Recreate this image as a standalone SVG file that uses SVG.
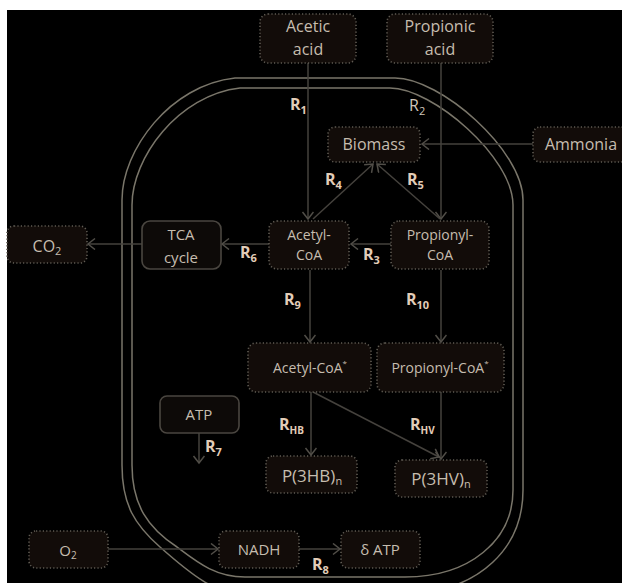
<svg xmlns="http://www.w3.org/2000/svg" width="622" height="583" viewBox="0 0 622 583">
<style>
.node{fill:#120c09;stroke:#5f5b53;stroke-width:1.6;stroke-dasharray:1.2 2.2}
.solid{fill:#0d0a08;stroke:#4a4640;stroke-width:1.6}
.t{font-family:"Open Sans","Liberation Sans",sans-serif;fill:#c6bdaf;text-anchor:middle}
.r{font-family:"Open Sans","Liberation Sans",sans-serif;fill:#e2cdb8;font-weight:bold;font-size:16px}
.rn{font-family:"Open Sans","Liberation Sans",sans-serif;fill:#cfc6bb;font-size:16px}
.mem{fill:none;stroke:#7a766a;stroke-width:1.5}
.c{fill:none;stroke:#45423d;stroke-width:1.5;marker-end:url(#ah)}
</style>
<defs>
<marker id="ah" markerUnits="userSpaceOnUse" markerWidth="12" markerHeight="14" refX="8" refY="6" orient="auto">
<path d="M1,0.5 L8,6 L1,11.5" fill="none" stroke="#514e48" stroke-width="1.5"/>
</marker>
</defs>
<rect x="0" y="0" width="622" height="583" fill="#ffffff"/>
<rect x="7" y="10" width="615" height="573" fill="#000000"/>

<g id="membrane">
<path class="mem" d="M122,465 L122,200 C122,150 170,85 235,78 L395,78 C440,78 523,150 523,200 L523,490 C523,548 480,590 410,594 L240,594 C215,592 195,578 160,547 C135,525 122,505 122,465 Z"/>
<path class="mem" d="M132,465 L132,205 C132,158 178,95 240,88 L390,88 C432,88 513,157 513,205 L513,490 C513,540 470,577 405,577 L245,577 C215,577 197,562 177,547 C148,528 132,505 132,465 Z"/>
</g>

<g id="connectors">
<line class="c" x1="308" y1="62" x2="308" y2="219"/>
<line class="c" x1="441" y1="63" x2="441" y2="219"/>
<line class="c" x1="533" y1="144" x2="422" y2="144"/>
<line class="c" x1="313" y1="219" x2="373" y2="164"/>
<line class="c" x1="440" y1="219" x2="377" y2="164"/>
<line class="c" x1="391" y1="244" x2="351" y2="244"/>
<line class="c" x1="269" y1="244" x2="222" y2="244"/>
<line class="c" x1="142" y1="244" x2="88" y2="244"/>
<line class="c" x1="310" y1="270" x2="310" y2="342"/>
<line class="c" x1="441" y1="270" x2="441" y2="342"/>
<line class="c" x1="311" y1="392" x2="311" y2="455"/>
<line class="c" x1="313" y1="392" x2="439" y2="457"/>
<line class="c" x1="441" y1="392" x2="441" y2="459"/>
<line class="c" x1="199" y1="433" x2="199" y2="463"/>
<line class="c" x1="108" y1="549" x2="218" y2="549"/>
<line class="c" x1="299" y1="549" x2="340" y2="549"/>
</g>

<g id="labels">
<text class="r" x="290" y="110">R<tspan font-size="11" dy="4">1</tspan></text>
<text class="rn" x="409" y="111">R<tspan font-size="11" dy="4">2</tspan></text>
<text class="r" x="363" y="260">R<tspan font-size="11" dy="4">3</tspan></text>
<text class="r" x="325" y="185">R<tspan font-size="11" dy="4">4</tspan></text>
<text class="r" x="407" y="185">R<tspan font-size="11" dy="4">5</tspan></text>
<text class="r" x="240" y="258">R<tspan font-size="11" dy="4">6</tspan></text>
<text class="r" x="205" y="452">R<tspan font-size="11" dy="4">7</tspan></text>
<text class="r" x="312" y="570">R<tspan font-size="11" dy="4">8</tspan></text>
<text class="r" x="284" y="305">R<tspan font-size="11" dy="4">9</tspan></text>
<text class="r" x="406" y="305">R<tspan font-size="11" dy="4">10</tspan></text>
<text class="r" x="279" y="430">R<tspan font-size="10" dy="4">HB</tspan></text>
<text class="r" x="410" y="430">R<tspan font-size="10" dy="4">HV</tspan></text>
</g>

<g id="acetic-acid">
<rect class="node" x="260" y="14" width="96" height="49" rx="8"/>
<text class="t" font-size="16" x="308" y="32">Acetic</text>
<text class="t" font-size="16" x="308" y="55">acid</text>
</g>
<g id="propionic-acid">
<rect class="node" x="387" y="14" width="106" height="49" rx="8"/>
<text class="t" font-size="16" x="440" y="32">Propionic</text>
<text class="t" font-size="16" x="440" y="55">acid</text>
</g>
<g id="biomass">
<rect class="node" x="328" y="127" width="92" height="35" rx="7"/>
<text class="t" font-size="16" x="374" y="150">Biomass</text>
</g>
<g id="ammonia">
<rect class="node" x="533" y="127" width="95" height="35" rx="7"/>
<text class="t" font-size="16" x="581" y="150">Ammonia</text>
</g>
<g id="acetyl-coa">
<rect class="node" x="269" y="221" width="80" height="48" rx="8"/>
<text class="t" font-size="14" x="309" y="240">Acetyl-</text>
<text class="t" font-size="14" x="309" y="260">CoA</text>
</g>
<g id="propionyl-coa">
<rect class="node" x="391" y="221" width="98" height="48" rx="8"/>
<text class="t" font-size="14" x="440" y="240">Propionyl-</text>
<text class="t" font-size="14" x="440" y="260">CoA</text>
</g>
<g id="tca-cycle">
<rect class="solid" x="142" y="221" width="79" height="48" rx="8"/>
<text class="t" font-size="15" x="181" y="240">TCA</text>
<text class="t" font-size="15" x="181" y="263">cycle</text>
</g>
<g id="co2">
<rect class="node" x="7" y="226" width="80" height="37" rx="7"/>
<text class="t" font-size="16" x="47" y="252">CO<tspan font-size="11" dy="3">2</tspan></text>
</g>
<g id="acetyl-coa-star">
<rect class="node" x="248" y="343" width="123" height="49" rx="8"/>
<text class="t" font-size="14" x="310" y="373">Acetyl-CoA<tspan font-size="8" dy="-7">*</tspan></text>
</g>
<g id="propionyl-coa-star">
<rect class="node" x="377" y="343" width="127" height="49" rx="8"/>
<text class="t" font-size="14" x="440" y="373">Propionyl-CoA<tspan font-size="8" dy="-7">*</tspan></text>
</g>
<g id="p3hb">
<rect class="node" x="266" y="456" width="91" height="37" rx="7"/>
<text class="t" font-size="17" x="312" y="482">P(3HB)<tspan font-size="11" dy="3">n</tspan></text>
</g>
<g id="p3hv">
<rect class="node" x="395" y="460" width="92" height="37" rx="7"/>
<text class="t" font-size="17" x="441" y="485">P(3HV)<tspan font-size="11" dy="3">n</tspan></text>
</g>
<g id="atp">
<rect class="solid" x="160" y="396" width="79" height="37" rx="7"/>
<text class="t" font-size="15" x="199" y="420">ATP</text>
</g>
<g id="o2">
<rect class="node" x="29" y="531" width="79" height="37" rx="7"/>
<text class="t" font-size="15" x="68" y="556">O<tspan font-size="10" dy="3">2</tspan></text>
</g>
<g id="nadh">
<rect class="node" x="219" y="531" width="80" height="37" rx="7"/>
<text class="t" font-size="15" x="259" y="555">NADH</text>
</g>
<g id="delta-atp">
<rect class="node" x="341" y="531" width="79" height="37" rx="7"/>
<text class="t" font-size="15" x="380" y="555">δ ATP</text>
</g>
</svg>
